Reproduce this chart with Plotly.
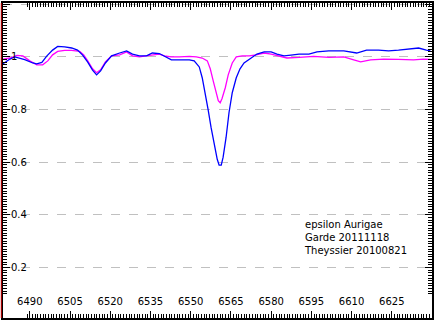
import plotly.graph_objects as go

# Wavelength (Angstrom) and relative flux
garde_wl = [6480.0, 6482.6, 6484.4, 6488.1, 6491.1, 6492.6, 6494.5, 6496.3, 6498.5, 6500.4,
            6503.0, 6505.6, 6507.8, 6509.7, 6511.6, 6513.4, 6514.9, 6516.4, 6518.2, 6520.5,
            6523.5, 6526.1, 6528.3, 6530.9, 6533.5, 6535.7, 6538.3, 6540.2, 6542.8, 6545.8,
            6549.5, 6551.3, 6553.2, 6554.3, 6555.4, 6556.5, 6557.6, 6558.8, 6559.9, 6560.6,
            6561.4, 6562.1, 6563.2, 6564.3, 6565.5, 6567.0, 6568.4, 6569.9, 6572.5, 6574.7,
            6577.4, 6580.0, 6582.2, 6584.8, 6587.4, 6590.4, 6594.1, 6597.1, 6601.5, 6607.1,
            6611.9, 6615.6, 6620.1, 6623.8, 6627.5, 6631.2, 6635.0, 6637.9, 6639.4]
garde_flux = [0.974, 0.992, 1.000, 0.990, 0.977, 0.974, 0.979, 1.003, 1.026, 1.040,
              1.038, 1.034, 1.026, 1.007, 0.980, 0.950, 0.932, 0.947, 0.977, 1.004,
              1.015, 1.023, 1.011, 1.004, 1.004, 1.015, 1.013, 1.004, 0.989, 0.989,
              0.989, 0.985, 0.962, 0.921, 0.864, 0.800, 0.732, 0.664, 0.611, 0.589,
              0.589, 0.619, 0.694, 0.789, 0.864, 0.921, 0.955, 0.977, 0.996, 1.011,
              1.019, 1.019, 1.011, 1.004, 1.007, 1.011, 1.011, 1.019, 1.023, 1.023,
              1.015, 1.026, 1.026, 1.023, 1.026, 1.030, 1.034, 1.026, 1.023]

theyssier_wl = [6480.0, 6482.6, 6485.2, 6487.4, 6490.0, 6492.6, 6494.8, 6496.7, 6498.5, 6500.4,
                6503.0, 6505.6, 6508.6, 6510.1, 6511.6, 6513.4, 6514.9, 6516.4, 6518.2, 6520.5,
                6523.5, 6526.1, 6528.3, 6530.9, 6534.6, 6538.3, 6540.2, 6542.8, 6545.8, 6549.5,
                6552.1, 6554.3, 6556.2, 6557.3, 6558.4, 6559.5, 6560.3, 6561.0, 6561.7, 6562.9,
                6564.0, 6565.5, 6567.0, 6569.2, 6571.8, 6574.4, 6577.4, 6580.0, 6582.9, 6585.9,
                6590.4, 6595.9, 6601.5, 6607.1, 6610.8, 6613.4, 6617.1, 6622.0, 6627.5, 6633.1,
                6636.8, 6639.4]
theyssier_flux = [0.992, 0.996, 1.006, 1.004, 0.985, 0.970, 0.970, 0.985, 1.008, 1.021,
                  1.025, 1.025, 1.021, 1.008, 0.985, 0.955, 0.940, 0.951, 0.981, 1.004,
                  1.008, 1.019, 1.004, 1.000, 1.006, 1.011, 1.004, 1.000, 1.000, 1.002,
                  1.000, 0.996, 0.985, 0.955, 0.909, 0.864, 0.834, 0.826, 0.842, 0.883,
                  0.932, 0.977, 1.000, 1.004, 1.004, 1.008, 1.015, 1.011, 1.004, 0.996,
                  0.998, 1.002, 0.998, 1.000, 0.989, 0.981, 0.989, 0.992, 0.991, 0.989,
                  0.992, 0.991]

x_range = [6480, 6640]
y_range = [0.008, 1.205]
x_tick_start, x_tick_step, x_minor_step = 6490, 15, 1
y_tick_start, y_tick_step, y_minor_step = 0.2, 0.2, 0.01
legend_lines = ["epsilon Aurigae", "Garde 20111118", "Theyssier 20100821"]

fig = go.Figure()
fig.add_trace(go.Scatter(x=theyssier_wl, y=theyssier_flux, mode="lines",
                         line=dict(color="#ff00ff", width=1.3), showlegend=False))
fig.add_trace(go.Scatter(x=garde_wl, y=garde_flux, mode="lines",
                         line=dict(color="#0000ff", width=1.3), showlegend=False))

font = dict(family="DejaVu Sans", size=10, color="#000000")

minor_x = dict(tickmode="linear", tick0=x_tick_start, dtick=x_minor_step,
               ticks="inside", ticklen=4, tickwidth=1, tickcolor="#000000", showgrid=False)
minor_y = dict(tickmode="linear", tick0=y_tick_start, dtick=y_minor_step,
               ticks="inside", ticklen=4, tickwidth=1, tickcolor="#000000", showgrid=False)

fig.update_layout(
    width=435, height=320,
    margin=dict(l=3, r=2, t=1, b=2),
    paper_bgcolor="#ffffff", plot_bgcolor="rgba(0,0,0,0)",
    font=font,
    xaxis=dict(range=x_range, tickmode="linear", tick0=x_tick_start, dtick=x_tick_step,
               ticks="inside", ticklen=7, tickwidth=1, tickcolor="#000000",
               showgrid=False, zeroline=False,
               showline=True, linecolor="#000000", linewidth=2, mirror="allticks",
               ticklabelposition="inside", ticklabelstandoff=3, tickfont=font, minor=minor_x),
    yaxis=dict(range=y_range, tickmode="linear", tick0=y_tick_start, dtick=y_tick_step,
               ticks="inside", ticklen=7, tickwidth=1, tickcolor="#000000",
               showgrid=True, gridcolor="#c0c0c0",
               griddash="dash", gridwidth=1, zeroline=False,
               showline=True, linecolor="#000000", linewidth=2, mirror="allticks",
               ticklabelposition="inside", tickfont=font, minor=minor_y),
    annotations=[dict(x=6591.5, y=0.315, xref="x", yref="y", xanchor="left", yanchor="middle",
                      align="left", showarrow=False, text="<br>".join(legend_lines),
                      font=font)],
    shapes=[dict(type="line", xref="paper", yref="paper", x0=-0.004, x1=-0.004, y0=0, y1=1,
                 line=dict(color="#cc0000", width=1))],
)

fig.write_html("out.html", config={"displayModeBar": False},
               post_script="document.body.style.margin='0';document.body.style.padding='0';"
                           "document.body.style.overflow='hidden';")
